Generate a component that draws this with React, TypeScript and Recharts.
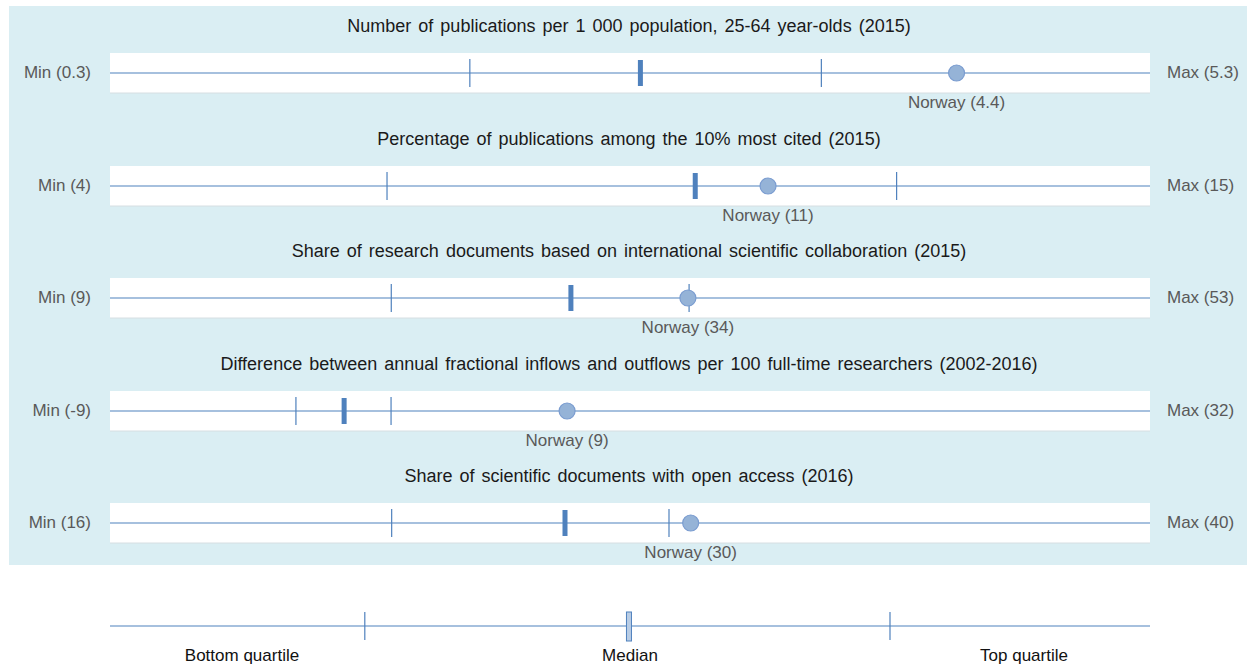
import { ComposedChart, XAxis, YAxis, Scatter, ReferenceArea, ReferenceLine } from 'recharts';

// Indicator rows (top to bottom)
const titles = [
  'Number of publications per 1 000 population, 25-64 year-olds (2015)',
  'Percentage of publications among the 10% most cited (2015)',
  'Share of research documents based on international scientific collaboration (2015)',
  'Difference between annual fractional inflows and outflows per 100 full-time researchers (2002-2016)',
  'Share of scientific documents with open access (2016)',
];
const minLabels = ['Min (0.3)', 'Min (4)', 'Min (9)', 'Min (-9)', 'Min (16)'];
const maxLabels = ['Max (5.3)', 'Max (15)', 'Max (53)', 'Max (32)', 'Max (40)'];
const norwayLabels = ['Norway (4.4)', 'Norway (11)', 'Norway (34)', 'Norway (9)', 'Norway (30)'];

const mins = [0.3, 4, 9, -9, 16];
const maxs = [5.3, 15, 53, 32, 40];
const bottomQuartile = [2.03, 6.93, 20.9, -1.67, 22.5];
const medians = [2.85, 10.19, 28.5, 0.23, 26.5];
const topQuartile = [3.72, 12.32, 33.5, 2.08, 28.9];
const norway = [4.37, 10.96, 33.45, 9.02, 29.4];

// Legend key (relative position along a 0-1 scale)
const legendKinds = ['q', 'legendMedian', 'q'];
const legendValues = [0.245, 0.499, 0.75];
const legendLabels = ['Bottom quartile', 'Median', 'Top quartile'];

const LINE = '#4F81BD';
const GREY_TEXT = '#595959';
const ROW_Y = [73, 185.5, 298, 410.5, 523];
const SANS = '"Liberation Sans", Arial, sans-serif';

function renderMark(props: any) {
  const { cx, cy, payload } = props;
  if (cx == null || cy == null) return <g />;
  if (payload.kind === 'q') {
    return <line x1={cx} x2={cx} y1={cy - 14} y2={cy + 14} stroke={LINE} strokeWidth={1.2} />;
  }
  if (payload.kind === 'median') {
    return <rect x={cx - 2.5} y={cy - 13} width={5} height={26} fill={LINE} />;
  }
  if (payload.kind === 'legendMedian') {
    return <rect x={cx - 2.5} y={cy - 14} width={5} height={29} fill="#B9CDE5" stroke={LINE} strokeWidth={1} />;
  }
  return (
    <g>
      <circle cx={cx} cy={cy} r={8} fill="#95B3D7" stroke="#7A9CD0" strokeWidth={1.2} />
      <text x={cx} y={cy + 35} textAnchor="middle" fontSize={17} fill={GREY_TEXT} fontFamily={SANS}>
        {payload.label}
      </text>
    </g>
  );
}

function IndicatorRow({ i }: { i: number }) {
  const marks = [
    { x: bottomQuartile[i], y: 0.5, kind: 'q' },
    { x: topQuartile[i], y: 0.5, kind: 'q' },
    { x: medians[i], y: 0.5, kind: 'median' },
    { x: norway[i], y: 0.5, kind: 'norway', label: norwayLabels[i] },
  ];
  const lineY = ROW_Y[i];
  return (
    <>
      <div
        style={{
          position: 'absolute', left: 110, width: 1038, top: lineY - 58, lineHeight: '22px',
          textAlign: 'center', fontSize: 18, fontFamily: SANS, color: '#1a1a1a', wordSpacing: 2,
          whiteSpace: 'nowrap',
        }}
      >
        {titles[i]}
      </div>
      <div
        style={{
          position: 'absolute', left: 0, width: 91, top: lineY - 11, lineHeight: '22px',
          textAlign: 'right', fontSize: 17, fontFamily: SANS, color: GREY_TEXT, whiteSpace: 'nowrap',
        }}
      >
        {minLabels[i]}
      </div>
      <div
        style={{
          position: 'absolute', left: 1167, top: lineY - 11, lineHeight: '22px',
          fontSize: 17, fontFamily: SANS, color: GREY_TEXT, whiteSpace: 'nowrap',
        }}
      >
        {maxLabels[i]}
      </div>
      <div style={{ position: 'absolute', left: 0, top: lineY - 50 }}>
        <ComposedChart width={1247} height={100} margin={{ top: 0, right: 97, bottom: 0, left: 110 }}>
          <XAxis type="number" dataKey="x" domain={[mins[i], maxs[i]]} hide allowDataOverflow />
          <YAxis type="number" dataKey="y" domain={[0, 1]} hide />
          <ReferenceArea x1={mins[i]} x2={maxs[i]} y1={0.3} y2={0.7} fill="#ffffff" fillOpacity={1} stroke="none" />
          <ReferenceLine y={0.3} stroke="#D6DEE2" strokeWidth={1} />
          <ReferenceLine y={0.5} stroke={LINE} strokeWidth={1.2} />
          <Scatter data={marks} dataKey="y" shape={renderMark} isAnimationActive={false} />
        </ComposedChart>
      </div>
    </>
  );
}

export default function App() {
  const legendMarks = legendValues.map((v, k) => ({ x: v, y: 0.5, kind: legendKinds[k] }));
  const legendCentres = [242, 630, 1024];
  return (
    <div style={{ position: 'absolute', left: 0, top: 0, width: 1247, height: 666, background: '#fff', overflow: 'hidden' }}>
      <div style={{ position: 'absolute', left: 9, top: 6, width: 1238, height: 559, background: '#DAEEF3' }} />
      {titles.map((_, i) => (
        <IndicatorRow key={i} i={i} />
      ))}
      <div style={{ position: 'absolute', left: 0, top: 586 }}>
        <ComposedChart width={1247} height={80} margin={{ top: 0, right: 97, bottom: 0, left: 110 }}>
          <XAxis type="number" dataKey="x" domain={[0, 1]} hide />
          <YAxis type="number" dataKey="y" domain={[0, 1]} hide />
          <ReferenceLine y={0.5} stroke={LINE} strokeWidth={1.2} />
          <Scatter data={legendMarks} dataKey="y" shape={renderMark} isAnimationActive={false} />
        </ComposedChart>
      </div>
      {legendLabels.map((t, k) => (
        <div
          key={t}
          style={{
            position: 'absolute', left: legendCentres[k] - 100, width: 200, top: 645, lineHeight: '22px',
            textAlign: 'center', fontSize: 17, fontFamily: SANS, color: '#111',
          }}
        >
          {t}
        </div>
      ))}
    </div>
  );
}
